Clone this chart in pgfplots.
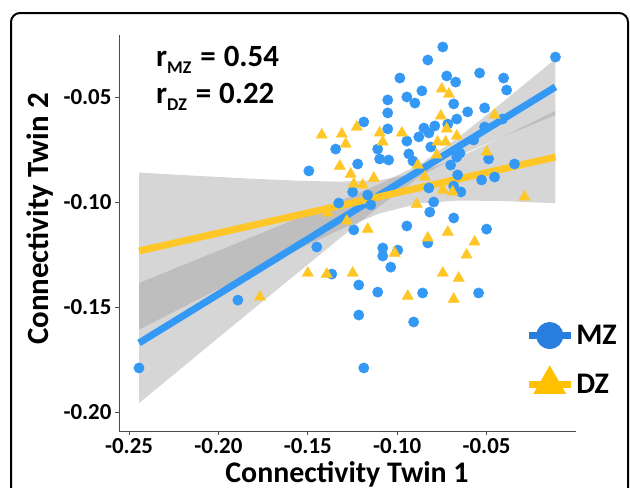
\documentclass[border=0pt]{standalone}
\usepackage{fontspec}
\setmainfont{Carlito}
\usepackage{pgfplots}
\pgfplotsset{compat=1.18}
\definecolor{mzblue}{RGB}{52,152,245}
\definecolor{dzgold}{RGB}{255,198,40}
\definecolor{legblue}{RGB}{40,125,222}
\definecolor{leggold}{RGB}{255,192,0}
\definecolor{bandgray}{RGB}{153,153,153}

\begin{document}
\begin{tikzpicture}
\draw[line width=2bp, rounded corners=9bp] (11bp,-13bp) rectangle (628bp,-530bp);
\begin{axis}[
  at={(119bp,-431bp)}, anchor=south west,
  scale only axis, width=457bp, height=396bp,
  xmin=-0.2556, xmax=0, ymin=-0.209, ymax=-0.0205,
  axis x line*=bottom, axis y line*=left,
  xtick pos=left, ytick pos=left,
  axis line style={black!70, line width=0.9bp},
  tick align=outside, major tick length=4bp,
  tick style={black!70, line width=0.9bp},
  xtick={-0.25,-0.2,-0.15,-0.1,-0.05},
  xticklabels={-0.25,-0.20,-0.15,-0.10,-0.05},
  ytick={-0.2,-0.15,-0.1,-0.05},
  yticklabels={-0.20,-0.15,-0.10,-0.05},
  ticklabel style={font=\fontsize{23}{23}\selectfont\bfseries},
  xticklabel style={inner sep=1bp, yshift=-2bp},
  legend image code/.code={\draw[mark repeat=2,mark phase=2] plot coordinates {(0bp,0bp) (21bp,0bp) (42bp,0bp)};},
  legend style={at={(0.882,0.278)}, anchor=north west, draw=none, fill=none,
    font=\fontsize{30}{30}\selectfont\bfseries, row sep=24bp,
    /tikz/every even column/.append style={column sep=4bp}},
  legend cell align=left,
]
\addlegendimage{legblue, line width=7bp, mark=*, mark size=10bp, mark options={solid}}
\addlegendimage{leggold, line width=7bp, mark=triangle*, mark size=12bp, mark options={solid}}
\legend{MZ,DZ}

% MZ twins
\addplot[only marks, mark=*, mark size=5.2bp, color=mzblue, forget plot] coordinates {
(-0.2444,-0.1790) (-0.1891,-0.1467) (-0.1450,-0.1214) (-0.1366,-0.1343) (-0.1327,-0.1005)
(-0.1249,-0.0952) (-0.1243,-0.1133) (-0.1215,-0.1395) (-0.1215,-0.1538) (-0.1187,-0.1790)
(-0.1165,-0.0967) (-0.1148,-0.1014) (-0.1494,-0.0852) (-0.1344,-0.0748) (-0.1221,-0.0819)
(-0.1187,-0.0619) (-0.1109,-0.0748) (-0.1098,-0.0795) (-0.1048,-0.0800) (-0.1053,-0.0514)
(-0.1053,-0.0576) (-0.1053,-0.0652) (-0.0985,-0.0410) (-0.0946,-0.0500) (-0.0946,-0.0710)
(-0.0935,-0.0771) (-0.0912,-0.0805) (-0.0901,-0.0529) (-0.0879,-0.0690) (-0.0862,-0.0471)
(-0.0851,-0.0648) (-0.0829,-0.0324) (-0.0823,-0.0671) (-0.0812,-0.0738) (-0.0790,-0.0638)
(-0.0745,-0.0262) (-0.0723,-0.0400) (-0.0717,-0.0629) (-0.0673,-0.0429) (-0.0684,-0.0533)
(-0.0667,-0.0605) (-0.0649,-0.0767) (-0.0667,-0.0786) (-0.0701,-0.0824) (-0.0662,-0.0871)
(-0.0684,-0.0924) (-0.0644,-0.0952) (-0.0823,-0.0933) (-0.0796,-0.1000) (-0.0818,-0.1048)
(-0.0684,-0.1076) (-0.0606,-0.0571) (-0.0573,-0.0705) (-0.0539,-0.0386) (-0.0511,-0.0552)
(-0.0511,-0.0643) (-0.0411,-0.0605) (-0.0405,-0.0410) (-0.0388,-0.0467) (-0.0489,-0.0795)
(-0.0528,-0.0895) (-0.0455,-0.0881) (-0.0344,-0.0819) (-0.0115,-0.0310) (-0.0946,-0.1114)
(-0.0500,-0.1129) (-0.1081,-0.1219) (-0.1081,-0.1257) (-0.0997,-0.1229) (-0.0829,-0.1195)
(-0.1036,-0.1310) (-0.1109,-0.1429) (-0.0858,-0.1433) (-0.0545,-0.1433) (-0.0908,-0.1571)
};

% DZ twins
\addplot[only marks, mark=triangle*, mark size=6.5bp, color=dzgold, forget plot] coordinates {
(-0.1768,-0.1452) (-0.1500,-0.1338) (-0.1394,-0.1343) (-0.1249,-0.1338) (-0.1422,-0.0681)
(-0.1310,-0.0676) (-0.1288,-0.0724) (-0.1226,-0.0643) (-0.1098,-0.0671) (-0.1081,-0.0714)
(-0.0974,-0.0671) (-0.0751,-0.0462) (-0.0711,-0.0486) (-0.0756,-0.0590) (-0.0723,-0.0652)
(-0.0667,-0.0686) (-0.0774,-0.0714) (-0.0729,-0.0714) (-0.0779,-0.0776) (-0.0885,-0.0824)
(-0.1321,-0.0829) (-0.1260,-0.0867) (-0.1131,-0.0886) (-0.1243,-0.0914) (-0.1193,-0.0919)
(-0.0455,-0.0586) (-0.0500,-0.0762) (-0.0846,-0.0881) (-0.0745,-0.0943) (-0.0690,-0.0952)
(-0.0288,-0.0976) (-0.0891,-0.1010) (-0.1388,-0.1052) (-0.1282,-0.1090) (-0.1165,-0.1129)
(-0.0829,-0.1171) (-0.1014,-0.1243) (-0.0717,-0.1143) (-0.0567,-0.1190) (-0.0612,-0.1252)
(-0.0745,-0.1338) (-0.0656,-0.1362) (-0.0941,-0.1448) (-0.0684,-0.1462)
};

% confidence bands
\addplot[draw=none, fill=bandgray, fill opacity=0.4, forget plot] coordinates {
(-0.2444,-0.1386) (-0.2215,-0.1306) (-0.1992,-0.1229) (-0.1768,-0.1151) (-0.1545,-0.1073)
(-0.1321,-0.0995) (-0.1098,-0.0914) (-0.0874,-0.0821) (-0.0651,-0.0688) (-0.0427,-0.0536)
(-0.0115,-0.0319)
(-0.0115,-0.0586) (-0.0427,-0.0696) (-0.0651,-0.0778) (-0.0874,-0.0879) (-0.1098,-0.1020)
(-0.1321,-0.1173) (-0.1545,-0.1329) (-0.1768,-0.1484) (-0.1992,-0.1640) (-0.2215,-0.1797)
(-0.2444,-0.1957)
} -- cycle;
\addplot[draw=none, fill=bandgray, fill opacity=0.4, forget plot] coordinates {
(-0.2444,-0.0860) (-0.2215,-0.0871) (-0.1992,-0.0881) (-0.1768,-0.0891) (-0.1545,-0.0899)
(-0.1321,-0.0903) (-0.1098,-0.0896) (-0.0874,-0.0858) (-0.0651,-0.0785) (-0.0427,-0.0697)
(-0.0115,-0.0566)
(-0.0115,-0.1006) (-0.0427,-0.0995) (-0.0651,-0.0993) (-0.0874,-0.1006) (-0.1098,-0.1054)
(-0.1321,-0.1132) (-0.1545,-0.1222) (-0.1768,-0.1316) (-0.1992,-0.1411) (-0.2215,-0.1508)
(-0.2444,-0.1607)
} -- cycle;

% regression lines
\addplot[mzblue, line width=7bp, forget plot] coordinates {(-0.2444,-0.1671) (-0.0115,-0.0452)};
\addplot[dzgold, line width=7bp, forget plot] coordinates {(-0.2444,-0.1233) (-0.0115,-0.0786)};
\end{axis}

\node[anchor=base west, inner sep=0pt, font=\fontsize{31}{31}\selectfont\bfseries]
  at (156bp,-66bp) {r\raisebox{-7bp}{\fontsize{18}{18}\selectfont MZ}\hspace{2bp} = \hspace{1bp}0.54};
\node[anchor=base west, inner sep=0pt, font=\fontsize{31}{31}\selectfont\bfseries]
  at (156bp,-103bp) {r\raisebox{-7bp}{\fontsize{18}{18}\selectfont DZ}\hspace{2bp} = \hspace{1bp}0.22};
\node[anchor=base, inner sep=0pt, font=\fontsize{30}{30}\selectfont\bfseries]
  at (347bp,-482bp) {Connectivity Twin 1};
\node[anchor=base, rotate=90, inner sep=0pt, font=\fontsize{31}{31}\selectfont\bfseries]
  at (48bp,-219bp) {Connectivity Twin 2};

\pgfresetboundingbox
\path[use as bounding box] (0bp,0bp) rectangle (630bp,-488bp);
\end{tikzpicture}
\end{document}
